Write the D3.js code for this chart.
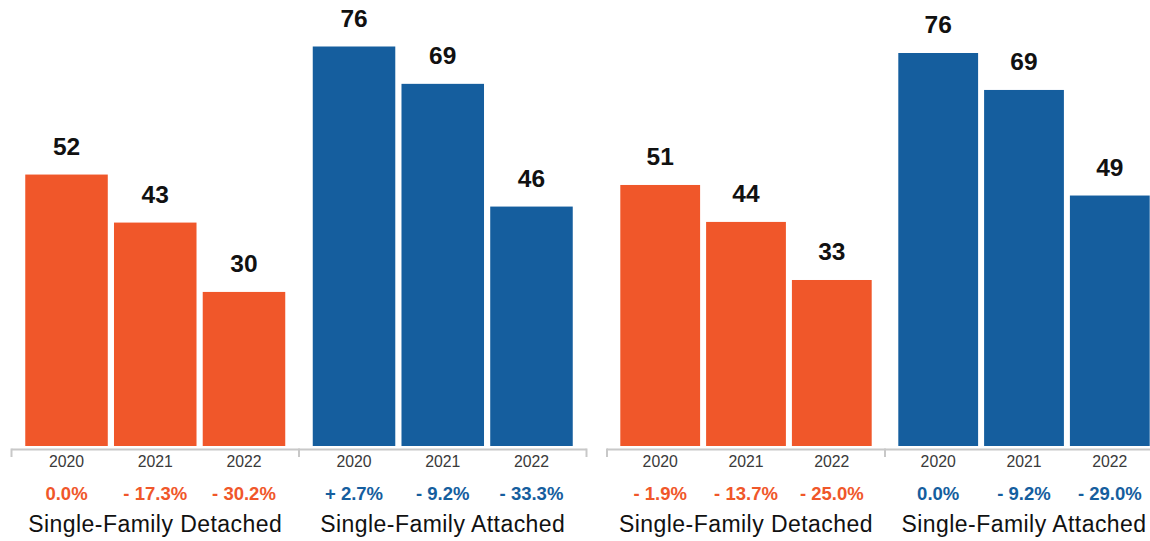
<!DOCTYPE html>
<html>
<head>
<meta charset="utf-8">
<script src="https://cdn.jsdelivr.net/npm/d3@7"></script>
<style>
  html, body { margin: 0; padding: 0; background: #fff; }
  svg { display: block; }
  text { font-family: "Liberation Sans", Arial, Helvetica, sans-serif; }
</style>
</head>
<body>
<svg id="chart" width="1150" height="541"></svg>
<script>
// Years shown under every group of bars
const years = ["2020", "2021", "2022"];
const categories = ["Single-Family Detached", "Single-Family Attached"];

// First chart
const detachedA = [52, 43, 30];
const attachedA = [76, 69, 46];
const detachedAChange = ["0.0%", "- 17.3%", "- 30.2%"];
const attachedAChange = ["+ 2.7%", "- 9.2%", "- 33.3%"];

// Second chart
const detachedB = [51, 44, 33];
const attachedB = [76, 69, 49];
const detachedBChange = ["- 1.9%", "- 13.7%", "- 25.0%"];
const attachedBChange = ["0.0%", "- 9.2%", "- 29.0%"];

const ORANGE = "#F0572A";
const BLUE = "#155E9E";
const AXIS = "#c8c8c8";

const svg = d3.select("#chart");

function drawChart(cfg) {
  const g = svg.append("g");
  const y = d3.scaleLinear().domain([0, 76]).range([cfg.zeroY, cfg.topY]);
  const baseY = 446;      // bottom edge of the bars
  const axisY = 449.5;

  const groups = [
    { name: categories[0], values: cfg.detached, change: cfg.detachedChange, color: ORANGE },
    { name: categories[1], values: cfg.attached, change: cfg.attachedChange, color: BLUE }
  ];

  const panel = d3.scaleBand()
    .domain(categories)
    .range([cfg.x0, cfg.x0 + 2 * cfg.panelW])
    .padding(0);

  // baseline across both panels
  g.append("line")
    .attr("x1", cfg.x0).attr("x2", cfg.x0 + 2 * cfg.panelW)
    .attr("y1", axisY).attr("y2", axisY)
    .attr("stroke", AXIS).attr("stroke-width", 2);

  // dividers at the panel edges
  const edges = [cfg.x0, cfg.x0 + cfg.panelW, cfg.x0 + 2 * cfg.panelW];
  g.selectAll("line.edge").data(edges).join("line")
    .attr("class", "edge")
    .attr("x1", d => d).attr("x2", d => d)
    .attr("y1", axisY - 1).attr("y2", 457)
    .attr("stroke", AXIS).attr("stroke-width", 2);

  groups.forEach(grp => {
    const px = panel(grp.name);
    const x = d3.scaleBand()
      .domain(years)
      .range([px, px + cfg.panelW])
      .paddingInner(0.07)
      .paddingOuter(0.155);

    const rows = years.map((yr, i) => ({ year: yr, value: grp.values[i], change: grp.change[i] }));
    const pg = g.append("g");

    pg.selectAll("rect").data(rows).join("rect")
      .attr("x", d => x(d.year))
      .attr("y", d => y(d.value))
      .attr("width", x.bandwidth())
      .attr("height", d => baseY - y(d.value))
      .attr("fill", grp.color);

    pg.selectAll("text.val").data(rows).join("text")
      .attr("class", "val")
      .attr("x", d => x(d.year) + x.bandwidth() / 2)
      .attr("y", d => y(d.value) - 20)
      .attr("text-anchor", "middle")
      .attr("font-size", 24.5)
      .attr("font-weight", "bold")
      .attr("fill", "#111")
      .text(d => d.value);

    pg.selectAll("text.yr").data(rows).join("text")
      .attr("class", "yr")
      .attr("x", d => x(d.year) + x.bandwidth() / 2)
      .attr("y", 467)
      .attr("text-anchor", "middle")
      .attr("font-size", 15.8)
      .attr("fill", "#3a3a3a")
      .text(d => d.year);

    pg.selectAll("text.chg").data(rows).join("text")
      .attr("class", "chg")
      .attr("x", d => x(d.year) + x.bandwidth() / 2)
      .attr("y", 500)
      .attr("text-anchor", "middle")
      .attr("font-size", 18.5)
      .attr("font-weight", "bold")
      .attr("fill", grp.color)
      .text(d => d.change);

    pg.append("text")
      .attr("x", px + cfg.panelW / 2)
      .attr("y", 532)
      .attr("text-anchor", "middle")
      .attr("font-size", 23)
      .attr("letter-spacing", 0.45)
      .attr("fill", "#111")
      .text(grp.name);
  });
}

drawChart({
  x0: 11.5, panelW: 287.5, zeroY: 452, topY: 46.5,
  detached: detachedA, attached: attachedA,
  detachedChange: detachedAChange, attachedChange: attachedAChange
});

drawChart({
  x0: 607, panelW: 278, zeroY: 454.2, topY: 53,
  detached: detachedB, attached: attachedB,
  detachedChange: detachedBChange, attachedChange: attachedBChange
});
</script>
</body>
</html>
